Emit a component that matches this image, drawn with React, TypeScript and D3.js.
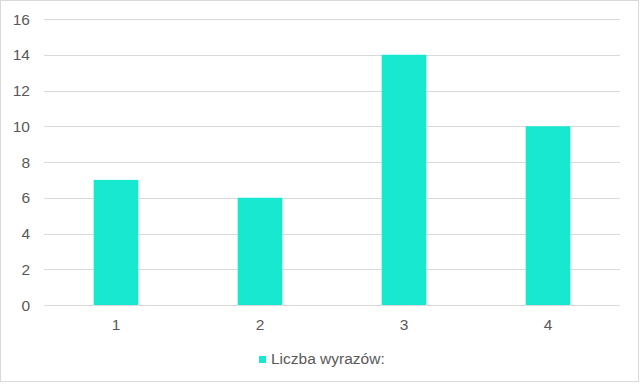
import React from "react";
import * as d3 from "d3";

const categories = ["1", "2", "3", "4"];
const values = [7, 6, 14, 10];
const yTicks = [0, 2, 4, 6, 8, 10, 12, 14, 16];
const seriesName = "Liczba wyrazów:";

export default function App() {
  const W = 640, H = 384;
  const left = 44, right = 620, top = 19, bottom = 305;
  const x = d3.scaleBand<string>().domain(categories).range([left, right]).paddingInner(0.69).paddingOuter(0.345);
  const y = d3.scaleLinear().domain([0, 16]).range([bottom, top]);
  const color = "#19E8D1";
  const txt = "#595959";
  const font = "'Liberation Sans', Arial, sans-serif";
  return (
    <div style={{ position: "absolute", left: 0, top: 0 }}>
      <svg width={W} height={H} style={{ display: "block" }}>
        <rect x={0} y={0} width={W} height={H} fill="#fff" />
        <rect x={0.5} y={0.5} width={638} height={381} fill="none" stroke="#d9d9d9" strokeWidth={1} />
        {yTicks.map((t) => (
          <g key={t}>
            <line x1={left} x2={right} y1={Math.round(y(t)) + 0.5} y2={Math.round(y(t)) + 0.5} stroke="#d9d9d9" strokeWidth={1} />
            <text x={30} y={y(t)} dy="0.36em" textAnchor="end" fontFamily={font} fontSize={15.5} fill={txt}>{t}</text>
          </g>
        ))}
        {categories.map((c, i) => (
          <rect key={c} x={x(c)} y={y(values[i])} width={x.bandwidth()} height={y(0) - y(values[i])} fill={color} />
        ))}
        {categories.map((c) => (
          <text key={c} x={(x(c) as number) + x.bandwidth() / 2} y={329.5} textAnchor="middle" fontFamily={font} fontSize={15.5} fill={txt}>{c}</text>
        ))}
        <rect x={259} y={356} width={7} height={7} fill={color} />
        <text x={271} y={363.5} fontFamily={font} fontSize={15.5} fill={txt}>{seriesName}</text>
      </svg>
    </div>
  );
}
